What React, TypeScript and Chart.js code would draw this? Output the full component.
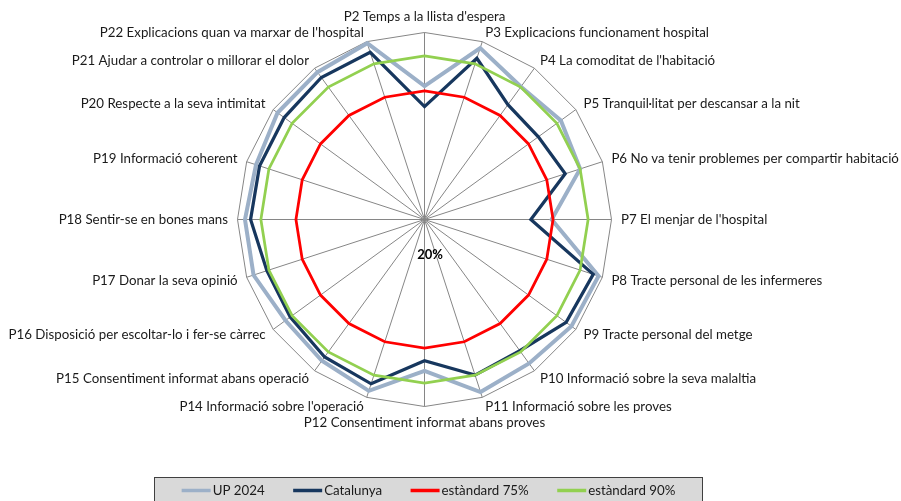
import React, { useEffect, useRef } from "react";
import { Chart, registerables } from "chart.js";

Chart.register(...registerables);

const categories = [
  "P2 Temps a la llista d'espera",
  "P3 Explicacions funcionament hospital",
  "P4 La comoditat de l'habitació",
  "P5 Tranquil·litat per descansar a la nit",
  "P6 No va tenir problemes per compartir habitació",
  "P7 El menjar de l'hospital",
  "P8 Tracte personal de les infermeres",
  "P9 Tracte personal del metge",
  "P10 Informació sobre la seva malaltia",
  "P11 Informació sobre les proves",
  "P12 Consentiment informat abans proves",
  "P14 Informació sobre l'operació",
  "P15 Consentiment informat abans operació",
  "P16 Disposició per escoltar-lo i fer-se càrrec",
  "P17 Donar la seva opinió",
  "P18 Sentir-se en bones mans",
  "P19 Informació coherent",
  "P20 Respecte a la seva intimitat",
  "P21 Ajudar a controlar o millorar el dolor",
  "P22 Explicacions quan va marxar de l'hospital",
];

const up2024 = [77.1, 97.1, 90.2, 92.1, 90.0, 74.4, 98.3, 97.7, 96.1, 97.6, 84.8, 97.1, 94.7, 93.5, 96.9, 96.8, 95.8, 97.7, 97.9, 99.3];
const catalunya = [68.3, 92.5, 80.7, 80.2, 83.3, 65.5, 95.9, 94.9, 89.4, 90.0, 80.4, 93.9, 92.7, 91.0, 90.9, 94.4, 94.2, 94.2, 95.1, 95.2];
const standard75 = [75, 75, 75, 75, 75, 75, 75, 75, 75, 75, 75, 75, 75, 75, 75, 75, 75, 75, 75, 75];
const standard90 = [90, 90, 90, 90, 90, 90, 90, 90, 90, 90, 90, 90, 90, 90, 90, 90, 90, 90, 90, 90];

const seriesNames = ["UP 2024", "Catalunya", "estàndard 75%", "estàndard 90%"];
const seriesColors = ["#9CB0C8", "#17375E", "#FF0000", "#92D050"];
const seriesWidths = [4, 3.25, 2.75, 2.75];

const scaleMin = 20;
const scaleMax = 100;
const centerLabel = "20%";

const LABEL_FONT = "13.3px Lato, 'Open Sans', sans-serif";
const GRID = "#868686";

const overlayPlugin = {
  id: "excelOverlay",
  afterLayout(chart: any) {
    const s = chart.scales.r;
    s.xCenter = 424.5;
    s.yCenter = 219.5;
    s.drawingArea = 187;
  },
  afterDraw(chart: any) {
    const ctx = chart.ctx;
    const s = chart.scales.r;
    ctx.save();
    ctx.fillStyle = "#1a1a1a";
    ctx.font = LABEL_FONT;
    const R = s.drawingArea;
    categories.forEach((label, i) => {
      const p = s.getPointPosition(i, R + 9.5);
      const dx = p.x - s.xCenter;
      const dy = p.y - s.yCenter;
      if (Math.abs(dx) < 1) {
        ctx.textAlign = "center";
        ctx.textBaseline = dy < 0 ? "bottom" : "top";
      } else {
        ctx.textAlign = dx > 0 ? "left" : "right";
        ctx.textBaseline = "middle";
      }
      ctx.fillText(label, p.x, p.y);
    });

    // center label
    ctx.font = "bold 13px Lato, 'Open Sans', sans-serif";
    ctx.fillStyle = "#000000";
    ctx.textAlign = "center";
    ctx.textBaseline = "middle";
    ctx.fillText(centerLabel, s.xCenter + 5.5, s.yCenter + 35.5);

    // legend box
    const bx = 154.5, by = 477.5, bw = 548, bh = 40;
    ctx.fillStyle = "#D9D9D9";
    ctx.fillRect(bx, by, bw, bh);
    ctx.strokeStyle = "#404040";
    ctx.lineWidth = 1;
    ctx.strokeRect(bx, by, bw, bh);

    ctx.font = LABEL_FONT;
    const lineLen = 29;
    const gapText = 2;
    const gapItem = 28.5;
    const widths = seriesNames.map((n) => ctx.measureText(n).width);
    const total = widths.reduce((a, w) => a + lineLen + gapText + w, 0) + gapItem * (seriesNames.length - 1);
    let x = bx + bw / 2 - total / 2;
    const ly = 490.5;
    seriesNames.forEach((n, i) => {
      ctx.strokeStyle = seriesColors[i];
      ctx.lineWidth = 3.5;
      ctx.beginPath();
      ctx.moveTo(x, ly);
      ctx.lineTo(x + lineLen, ly);
      ctx.stroke();
      ctx.fillStyle = "#1a1a1a";
      ctx.textAlign = "left";
      ctx.textBaseline = "middle";
      ctx.fillText(n, x + lineLen + gapText, ly);
      x += lineLen + gapText + widths[i] + gapItem;
    });
    ctx.restore();
  },
};

export default function App() {
  const ref = useRef<HTMLCanvasElement | null>(null);
  useEffect(() => {
    if (!ref.current) return;
    const series = [up2024, catalunya, standard75, standard90];
    const chart = new Chart(ref.current, {
      type: "radar",
      data: {
        labels: categories,
        datasets: series.map((d, i) => ({
          label: seriesNames[i],
          data: d,
          borderColor: seriesColors[i],
          backgroundColor: "transparent",
          borderWidth: seriesWidths[i],
          pointRadius: 0,
          pointHoverRadius: 0,
          fill: false,
          tension: 0,
          borderJoinStyle: "miter" as const,
          order: 3 - i,
        })),
      },
      options: {
        animation: false,
        responsive: false,
        plugins: {
          legend: { display: false },
          tooltip: { enabled: false },
        },
        scales: {
          r: {
            min: scaleMin,
            max: scaleMax,
            ticks: { display: false, stepSize: 80 },
            grid: { color: GRID, lineWidth: 1 },
            angleLines: { color: GRID, lineWidth: 1 },
            pointLabels: { display: false },
          },
        },
      },
      plugins: [overlayPlugin],
    });
    return () => chart.destroy();
  }, []);
  return (
    <div style={{ position: "absolute", left: 0, top: 0, width: 901, height: 501, background: "#fff" }}>
      <canvas ref={ref} width={901} height={501} style={{ display: "block" }} />
    </div>
  );
}
